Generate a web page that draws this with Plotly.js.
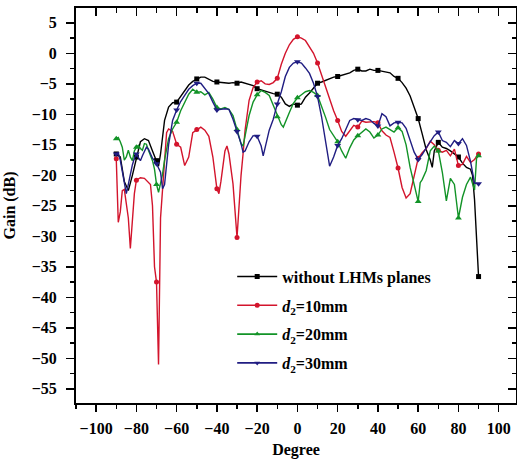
<!DOCTYPE html>
<html>
<head>
<meta charset="utf-8">
<script src="https://cdn.plot.ly/plotly-3.0.1.min.js"></script>
<style>html,body{margin:0;padding:0;background:#fff;}#chart{width:517px;height:461px;}</style>
</head>
<body>
<div id="chart"></div>
<script>
// ---- data ----
const seriesNames = ["without LHMs planes", "<i>d</i><sub>2</sub>=10mm", "<i>d</i><sub>2</sub>=20mm", "<i>d</i><sub>2</sub>=30mm"];

const xBlack = [-90,-88,-86,-84,-82,-80,-78,-76,-74,-72,-70,-69,-68,-66,-64,-62,-60,-58,-56,-54,-52,-50,-48,-46,-44,-42,-40,-38,-36,-34,-32,-30,-28,-26,-24,-22,-20,-18,-16,-14,-12,-10,-8,-6,-4,-2,0,2,4,6,8,10,12,14,16,18,20,22,24,26,28,30,32,34,36,38,40,42,44,46,48,50,52,54,56,58,60,62,64,66,67,68,70,72,74,76,78,80,82,84,86,87,88,89,90];
const yBlack = [-16.5,-17,-21,-22.5,-20,-17,-14.5,-14,-14.3,-16,-17.6,-18.5,-16.5,-11,-8.8,-8.1,-8.0,-7,-6,-5.2,-4.6,-4.2,-3.9,-3.9,-4.2,-4.6,-4.7,-4.8,-4.9,-4.9,-4.8,-4.9,-4.7,-4.9,-5.2,-5.3,-5.8,-6.0,-6.3,-6.4,-6.6,-6.7,-7.2,-8.3,-8.7,-8.3,-8.5,-8.3,-7.2,-6.5,-5.6,-4.9,-4.7,-4.4,-4.2,-3.9,-3.8,-3.6,-3.3,-3.2,-2.8,-2.6,-2.9,-2.9,-2.6,-2.8,-2.8,-2.9,-3.0,-3.2,-3.8,-4.1,-4.8,-5.7,-7.0,-9.0,-10.7,-13.2,-15.8,-17.5,-18.7,-16,-14.6,-15.4,-15.6,-16,-16.5,-17,-18,-18.7,-19,-20,-24,-30,-36.6];

const xRed = [-90,-89,-88,-87,-86,-84,-83,-82,-81,-80,-78,-76,-74,-73,-72,-71,-70,-69,-68,-67,-66,-65,-64,-62,-60,-58,-56,-54,-52,-50,-48,-46,-44,-42,-40,-39,-38,-36,-35,-34,-32,-30,-29,-28,-27,-26,-24,-22,-20,-18,-16,-14,-12,-10,-8,-6,-4,-2,0,2,4,6,8,10,12,14,16,18,20,22,24,26,28,30,32,34,36,38,40,42,44,46,48,50,52,54,56,58,60,62,64,66,68,70,72,74,76,78,80,82,84,86,88,90];
const yRed = [-17.3,-27.7,-26,-22.5,-22.3,-27,-32,-27,-23,-20.8,-20.4,-20.5,-21.2,-21.5,-25,-35,-37.5,-51,-27,-22,-17,-13,-12.4,-12.8,-14.9,-15.4,-18.4,-17,-13,-12.5,-12.1,-12.6,-13.6,-17,-22.2,-23,-21,-16,-15.2,-16.5,-21.4,-30.2,-24,-20,-16.5,-12.6,-7.7,-5.6,-4.7,-4.5,-5.0,-5.1,-4.8,-4.1,-1.8,0,1.4,2.3,2.7,2.5,2.1,1.1,0,-1.6,-3.6,-5.6,-7.6,-9.4,-11,-12.8,-13.6,-12.6,-11.8,-12.1,-11.1,-11.3,-11.2,-11.2,-11.4,-12.7,-13.4,-13.8,-16.2,-18.8,-22,-23.7,-23,-19.8,-17.2,-16.3,-15.6,-14.4,-15,-15.9,-16.2,-15.9,-16.8,-15.7,-18.4,-18.2,-16.9,-17.9,-17.4,-16.5];

const xGreen = [-90,-89,-88,-87,-86,-85,-84,-83,-82,-81,-80,-79,-78,-77,-76,-75,-74,-72,-71,-70,-69,-68,-67,-66,-65,-64,-62,-60,-58,-56,-54,-52,-50,-48,-46,-44,-42,-40,-38,-36,-34,-32,-30,-28,-27,-26,-24,-22,-20,-18,-16,-14,-12,-10,-8,-7,-6,-4,-2,0,2,4,6,8,10,12,14,16,18,20,22,24,26,28,30,32,34,36,38,40,42,44,46,48,50,52,54,56,58,60,61,62,64,66,68,70,72,74,76,78,80,82,84,86,88,89,90];
const yGreen = [-14,-13.8,-14.5,-15.4,-17.5,-17,-15.9,-17,-17.6,-16,-15.4,-15.1,-15.6,-15.9,-14.8,-14.9,-15.9,-17.6,-19,-21.5,-22.8,-21.5,-19.8,-17.5,-15.4,-14,-12.4,-11.3,-9.4,-7.9,-6.7,-5.9,-6.4,-6.3,-6.8,-6.4,-7.5,-8.9,-9.1,-8.9,-9.2,-10.2,-12.5,-14.8,-15.2,-13.5,-10.2,-8,-6.8,-6.1,-6.4,-6.9,-8.5,-10.4,-11.7,-12.1,-11.2,-9.7,-8.2,-7.3,-6.8,-6.3,-6.1,-6.4,-6.9,-8.6,-10.5,-12.5,-13.6,-14.5,-16,-17.2,-15.5,-14.2,-13.5,-13,-12.4,-12.9,-13.9,-13.4,-12.4,-12.1,-12.5,-12.9,-12.2,-12.8,-15,-18.7,-21.5,-24.3,-21.2,-20.7,-19.2,-16,-15.2,-16,-19.5,-24.2,-20.5,-21.5,-27,-23.6,-21.5,-20.3,-22.4,-17.2,-16.8];

const xBlue = [-90,-89,-88,-87,-86,-85,-84,-83,-82,-81,-80,-79,-78,-77,-76,-75,-74,-73,-72,-71,-70,-68,-67,-66,-65,-64,-63,-62,-60,-58,-56,-54,-52,-50,-48,-46,-44,-42,-40,-38,-36,-34,-32,-30,-28,-27,-26,-24,-22,-20,-18,-17,-16,-14,-12,-10,-8,-6,-4,-2,0,2,4,6,8,10,12,14,16,18,20,22,24,26,28,30,32,34,36,38,40,42,44,46,48,50,52,54,56,58,60,62,64,66,68,70,72,74,76,78,80,82,84,86,88,90];
const yBlue = [-16.5,-16.3,-17.5,-19.2,-21.5,-23,-21.5,-19.8,-18.3,-17.2,-16.5,-17.1,-17.6,-16.8,-16,-15.4,-15.7,-16.5,-17.2,-17.6,-18.1,-19.5,-22.2,-21.5,-17.6,-15,-13,-11,-9.3,-7.9,-6.9,-5.9,-5.3,-4.9,-4.9,-5.7,-6.6,-8,-9.3,-9.2,-9.1,-9.2,-10.8,-12.8,-14.8,-16.2,-16,-14.5,-13.5,-13.6,-15.2,-16.8,-15.5,-12.6,-10.8,-8.3,-6.3,-3.8,-2.3,-1.6,-1.4,-1.6,-2.4,-3.3,-4.9,-7.1,-10.4,-14.5,-18.5,-17,-15.1,-14,-12.4,-11,-10.7,-10.9,-11,-10.7,-10.9,-11.5,-11.9,-9.9,-10.4,-11.9,-11.4,-11.3,-11.4,-12.3,-14.3,-16.2,-17.4,-16.6,-15.5,-14.4,-13.5,-12.9,-14.3,-14.6,-15.3,-14.3,-14.8,-14,-15.1,-17.7,-21.3,-21.4];

const xTickLabelsStep = 20;
const yTickLabelsStep = 5;

// ---- styling ----
const colors = ["#000000", "#d3142c", "#129327", "#201d82"];
const symbols = ["square", "circle", "triangle-up", "triangle-down"];
const msizes = [5, 5, 6, 6];
const XS = [xBlack, xRed, xGreen, xBlue];
const YS = [yBlack, yRed, yGreen, yBlue];

const traces = [];
for (let i = 0; i < 4; i++) {
  const x = XS[i], y = YS[i];
  traces.push({x: x, y: y, type: "scatter", mode: "lines", showlegend: false,
    line: {color: colors[i], width: 1.4}, hoverinfo: "skip"});
  const mx = [], my = [];
  x.forEach((v, k) => { if (v % 10 === 0) { mx.push(v); my.push(y[k]); } });
  traces.push({x: mx, y: my, type: "scatter", mode: "markers", showlegend: false,
    marker: {color: colors[i], symbol: symbols[i], size: msizes[i]}});
}
for (let i = 0; i < 4; i++) {
  traces.push({x: [null], y: [null], type: "scatter", mode: "lines+markers",
    name: "<b>" + seriesNames[i] + "</b>", legendgroup: "g" + i,
    line: {color: colors[i], width: 1.6},
    marker: {color: colors[i], symbol: symbols[i], size: 5}});
}
traces.push({x: [null], y: [null], xaxis: "x2", yaxis: "y2", showlegend: false, type: "scatter", mode: "lines"});

const F = "Liberation Serif, Times New Roman, serif";
const xr = [-110, 108.6], yr = [-57.33, 7.43];
const layout = {
  width: 517, height: 461,
  margin: {l: 76, r: 1, t: 8, b: 58},
  paper_bgcolor: "#fff", plot_bgcolor: "#fff",
  font: {family: F, size: 16, color: "#000"},
  showlegend: true,
  legend: {x: 0.355, y: 0.363, xanchor: "left", yanchor: "top", bgcolor: "rgba(0,0,0,0)",
    traceorder: "grouped", tracegroupgap: 5, itemwidth: 40,
    font: {family: F, size: 16, color: "#000"}},
  xaxis: {range: xr, dtick: xTickLabelsStep, tick0: 0, ticks: "outside", ticklen: 7, tickwidth: 1.5,
    tickcolor: "#000", showline: true, linewidth: 2, linecolor: "#000", showgrid: false, zeroline: false,
    minor: {dtick: 10, ticks: "outside", ticklen: 4, tickwidth: 1.5, tickcolor: "#000"},
    tickfont: {family: F, size: 16, color: "#000", weight: "bold"},
    ticklabelstandoff: 3,
    title: {text: "<b>Degree</b>", font: {family: F, size: 16}, standoff: 8}},
  yaxis: {range: yr, dtick: yTickLabelsStep, tick0: 0, ticks: "outside", ticklen: 8, tickwidth: 1.5,
    tickcolor: "#000", showline: true, linewidth: 2, linecolor: "#000", showgrid: false, zeroline: false,
    minor: {dtick: 2.5, ticks: "outside", ticklen: 4, tickwidth: 1.5, tickcolor: "#000"},
    tickfont: {family: F, size: 16, color: "#000", weight: "bold"},
    ticklabelstandoff: 6,
    title: {text: "<b>Gain (dB)</b>", font: {family: F, size: 16}, standoff: 12}},
  xaxis2: {range: xr, overlaying: "x", side: "top", dtick: xTickLabelsStep, tick0: 0, ticks: "inside", ticklen: 8, tickwidth: 1.5,
    tickcolor: "#000", showline: true, linewidth: 2, linecolor: "#000", showgrid: false, zeroline: false, showticklabels: false,
    minor: {dtick: 10, ticks: "inside", ticklen: 5, tickwidth: 1.5, tickcolor: "#000"}},
  yaxis2: {range: yr, overlaying: "y", side: "right", dtick: yTickLabelsStep, tick0: 0, ticks: "inside", ticklen: 8, tickwidth: 1.5,
    tickcolor: "#000", showline: true, linewidth: 2, linecolor: "#000", showgrid: false, zeroline: false, showticklabels: false,
    minor: {dtick: 2.5, ticks: "inside", ticklen: 4, tickwidth: 1.5, tickcolor: "#000"}}
};
Plotly.newPlot("chart", traces, layout, {displayModeBar: false, staticPlot: true});
</script>
</body>
</html>
